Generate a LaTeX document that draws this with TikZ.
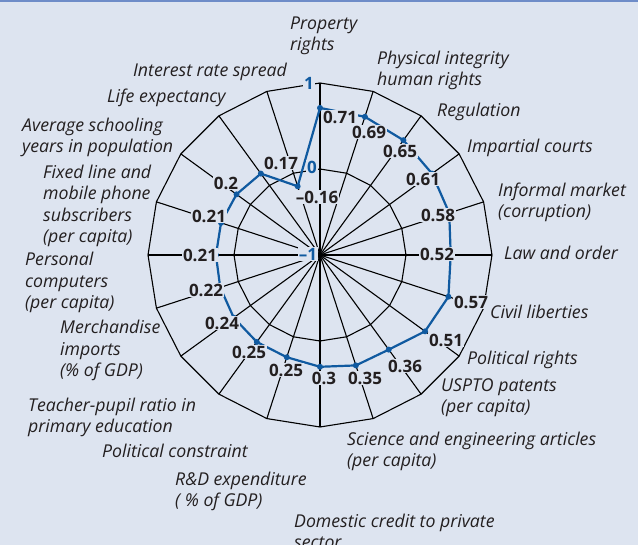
\documentclass[tikz,border=0pt]{standalone}
\usepackage{fontspec}
\setmainfont{Open Sans}
\usetikzlibrary{calc}
\definecolor{bgc}{RGB}{221,228,240}
\definecolor{topc}{RGB}{110,140,200}
\definecolor{datac}{RGB}{16,90,160}
\definecolor{txtc}{RGB}{35,31,32}
\begin{document}
\begin{tikzpicture}[x=1pt,y=-1pt,
  lab/.style={font=\fontsize{17.7}{21.5}\selectfont\itshape, text=txtc, anchor=base west, align=left, inner sep=0pt},
  val/.style={font=\fontsize{17}{20}\selectfont\bfseries, text=txtc, fill=bgc, inner sep=1.2pt},
  axv/.style={font=\fontsize{17}{20}\selectfont\bfseries, text=datac, fill=bgc, inner sep=1pt},
  gridline/.style={draw=black, line width=1.1pt, line join=miter},
  dataline/.style={draw=datac, line width=2.2pt, line join=round},
  dot/.style={circle, fill=datac, inner sep=0pt, minimum size=6pt}]
\useasboundingbox (0,0) rectangle (638,545);
\fill[bgc] (0,0) rectangle (638,545);
\draw[topc, line width=2.5pt] (0,1.25) -- (638,1.25);
\coordinate (C) at (320,255);
% grid coordinates
\foreach \i in {0,...,19}{
  \coordinate (o\i) at ($(C)+(18*\i-90:172)$);
  \coordinate (z\i) at ($(C)+(18*\i-90:86)$);
}
\draw[gridline] (o0) \foreach \i in {1,...,19}{ -- (o\i)} -- cycle;
\draw[gridline] (z0) \foreach \i in {1,...,19}{ -- (z\i)} -- cycle;
\foreach \i in {0,...,19}{ \draw[gridline] (C) -- (o\i); }
% data
\foreach \v [count=\j from 0] in {0.71,0.69,0.65,0.61,0.58,0.52,0.57,0.51,0.36,0.35,0.3,0.25,0.25,0.24,0.22,0.21,0.21,0.2,0.17,-0.16}{
  \coordinate (d\j) at ($(C)+(18*\j-90:{86*(1+\v)})$);
}
\draw[dataline] (d0) \foreach \i in {1,...,19}{ -- (d\i)} -- cycle;
\foreach \i in {0,...,19}{ \node[dot] (m\i) at (d\i) {}; }
% value labels
\node[val] (v0) at (340,117) {0.71};
\node[val] (v1) at (369,132) {0.69};
\node[val] (v2) at (400,151) {0.65};
\node[val] (v3) at (423,179) {0.61};
\node[val] (v4) at (438,215) {0.58};
\node[val] (v5) at (437,254) {0.52};
\node[val] (v6) at (471,302) {0.57};
\node[val] (v7) at (446,340) {0.51};
\node[val] (v8) at (405,366) {0.36};
\node[val] (v9) at (365,378) {0.35};
\node[val] (v10) at (324,378) {0.3};
\node[val] (v11) at (286,370) {0.25};
\node[val] (v12) at (249,352) {0.25};
\node[val] (v13) at (222,323) {0.24};
\node[val] (v14) at (206,290) {0.22};
\node[val] (v15) at (200,255) {0.21};
\node[val] (v16) at (209,216) {0.21};
\node[val] (v17) at (226,183) {0.2};
\node[val] (v18) at (281,163) {0.17};
\node[val] (v19) at (317,197) {–0.16};
% scale labels
\node[axv] (s1) at (309,83) {1};
\node[axv] (s0) at (312,167) {0};
\node[axv] (sm) at (308,254) {–1};
% category labels (anchor = baseline of last line)
\node[lab] (l0) at (290,51) {Property\\rights};
\node[lab] (l1) at (377,86) {Physical integrity\\human rights};
\node[lab] (l2) at (437,117) {Regulation};
\node[lab] (l3) at (467,153) {Impartial courts};
\node[lab] (l4) at (498,218) {Informal market\\(corruption)};
\node[lab] (l5) at (504,260) {Law and order};
\node[lab] (l6) at (490,319) {Civil liberties};
\node[lab] (l7) at (467,365) {Political rights};
\node[lab] (l8) at (441,413) {USPTO patents\\(per capita)};
\node[lab] (l9) at (347,467) {Science and engineering articles\\(per capita)};
\node[lab] (l10) at (294,549) {Domestic credit to private\\sector};
\node[lab] (l11) at (175,507) {R\&D expenditure\\( \% of GDP)};
\node[lab] (l12) at (102,458) {Political constraint};
\node[lab] (l13) at (28,433) {Teacher-pupil ratio in\\primary education};
\node[lab] (l14) at (60,377) {Merchandise\\imports\\(\% of GDP)};
\node[lab] (l15) at (25,309) {Personal\\computers\\(per capita)};
\node[lab] (l16) at (43,243) {Fixed line and\\mobile phone\\subscribers\\(per capita)};
\node[lab] (l17) at (22,153) {Average schooling\\years in population};
\node[lab] (l18) at (107,103) {Life expectancy};
\node[lab] (l19) at (133,77) {Interest rate spread};
\end{tikzpicture}
\end{document}
